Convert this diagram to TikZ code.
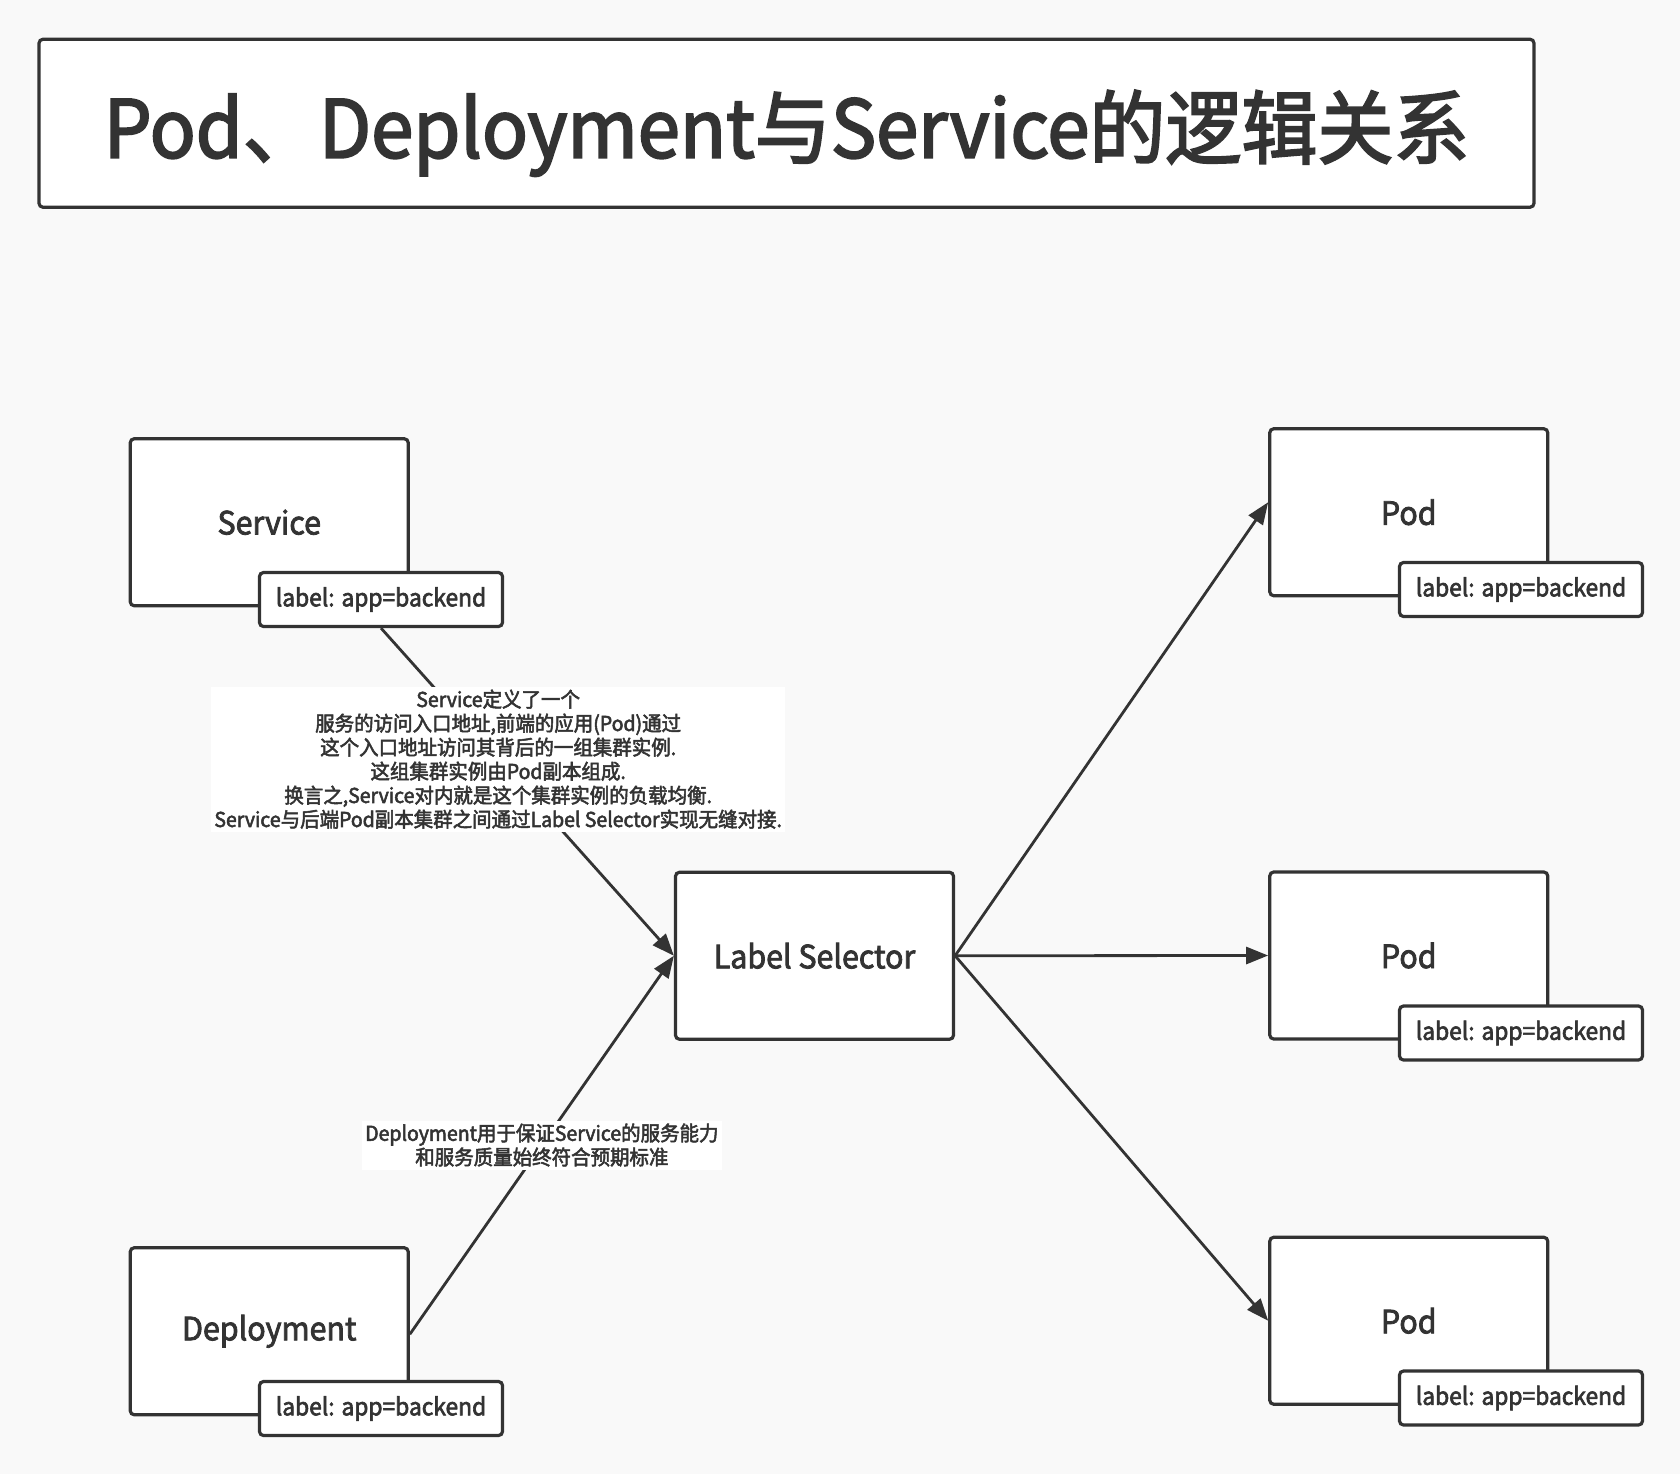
\documentclass[tikz,border=0pt]{standalone}
\usepackage{fontspec}
\setmainfont{Noto Sans CJK SC}[FakeBold=2.5,FakeStretch=0.95]
\usetikzlibrary{arrows.meta,calc}
\definecolor{ink}{HTML}{333333}
\definecolor{bg}{HTML}{F9F9F9}
\begin{document}
\begin{tikzpicture}[x=1pt,y=-1pt,
  box/.style={draw=ink, line width=3.2pt, fill=white, rounded corners=4pt,
    minimum width=278pt, minimum height=167pt, inner sep=0pt,
    text=ink, font=\fontsize{32}{38}\selectfont},
  tag/.style={draw=ink, line width=3.2pt, fill=white, rounded corners=4pt,
    minimum width=243pt, minimum height=54pt, inner sep=0pt,
    text=ink, font=\fontsize{24}{28}\selectfont},
  conn/.style={draw=ink, line width=2.8pt, -{Triangle[length=22pt,width=17pt]}},
  note/.style={fill=white, text=ink, align=center, inner sep=3pt,
    font=\fontsize{20.5}{24}\selectfont}
]
\fill[bg] (0,0) rectangle (1680,1474);
\useasboundingbox (0,0) rectangle (1680,1474);

\node[draw=ink, line width=3.2pt, fill=white, rounded corners=4pt,
  minimum width=1495pt, minimum height=168pt, inner sep=0pt] (title) at (786.5,123.25) {};
\node[text=ink, font=\fontsize{80}{90}\selectfont, inner sep=0pt] (titletext)
  at ($(title.center)+(0,10)$) {Pod、Deployment与Service的逻辑关系};

\node[box] (svc) at (269.25,522.25) {Service};
\node[tag] (svctag) at (381,599.5) {label: app=backend};

\node[box] (ls) at (814.5,955.75) {Label Selector};

\node[box] (pod1) at (1408.75,512.25) {Pod};
\node[tag] (pod1tag) at (1521,589.5) {label: app=backend};
\node[box] (pod2) at (1408.75,955.5) {Pod};
\node[tag] (pod2tag) at (1521,1033) {label: app=backend};
\node[box] (pod3) at (1408.75,1320.75) {Pod};
\node[tag] (pod3tag) at (1521,1398) {label: app=backend};

\node[box] (dep) at (269.25,1331.25) {Deployment};
\node[tag] (deptag) at (381,1408.5) {label: app=backend};

\draw[conn] (svctag.south) -- node[note, pos=0.4] {Service定义了一个\\服务的访问入口地址,前端的应用(Pod)通过\\这个入口地址访问其背后的一组集群实例.\\这组集群实例由Pod副本组成.\\换言之,Service对内就是这个集群实例的负载均衡.\\Service与后端Pod副本集群之间通过Label Selector实现无缝对接.} (ls.west);
\draw[conn] ($(dep.east)+(0,3)$) -- node[note, pos=0.5] {Deployment用于保证Service的服务能力\\和服务质量始终符合预期标准} (ls.west);

\draw[conn] (ls.east) -- ($(pod1.west)+(0,-10)$);
\draw[conn] (ls.east) -- (pod2.west);
\draw[conn] (ls.east) -- (pod3.west);
\end{tikzpicture}
\end{document}
